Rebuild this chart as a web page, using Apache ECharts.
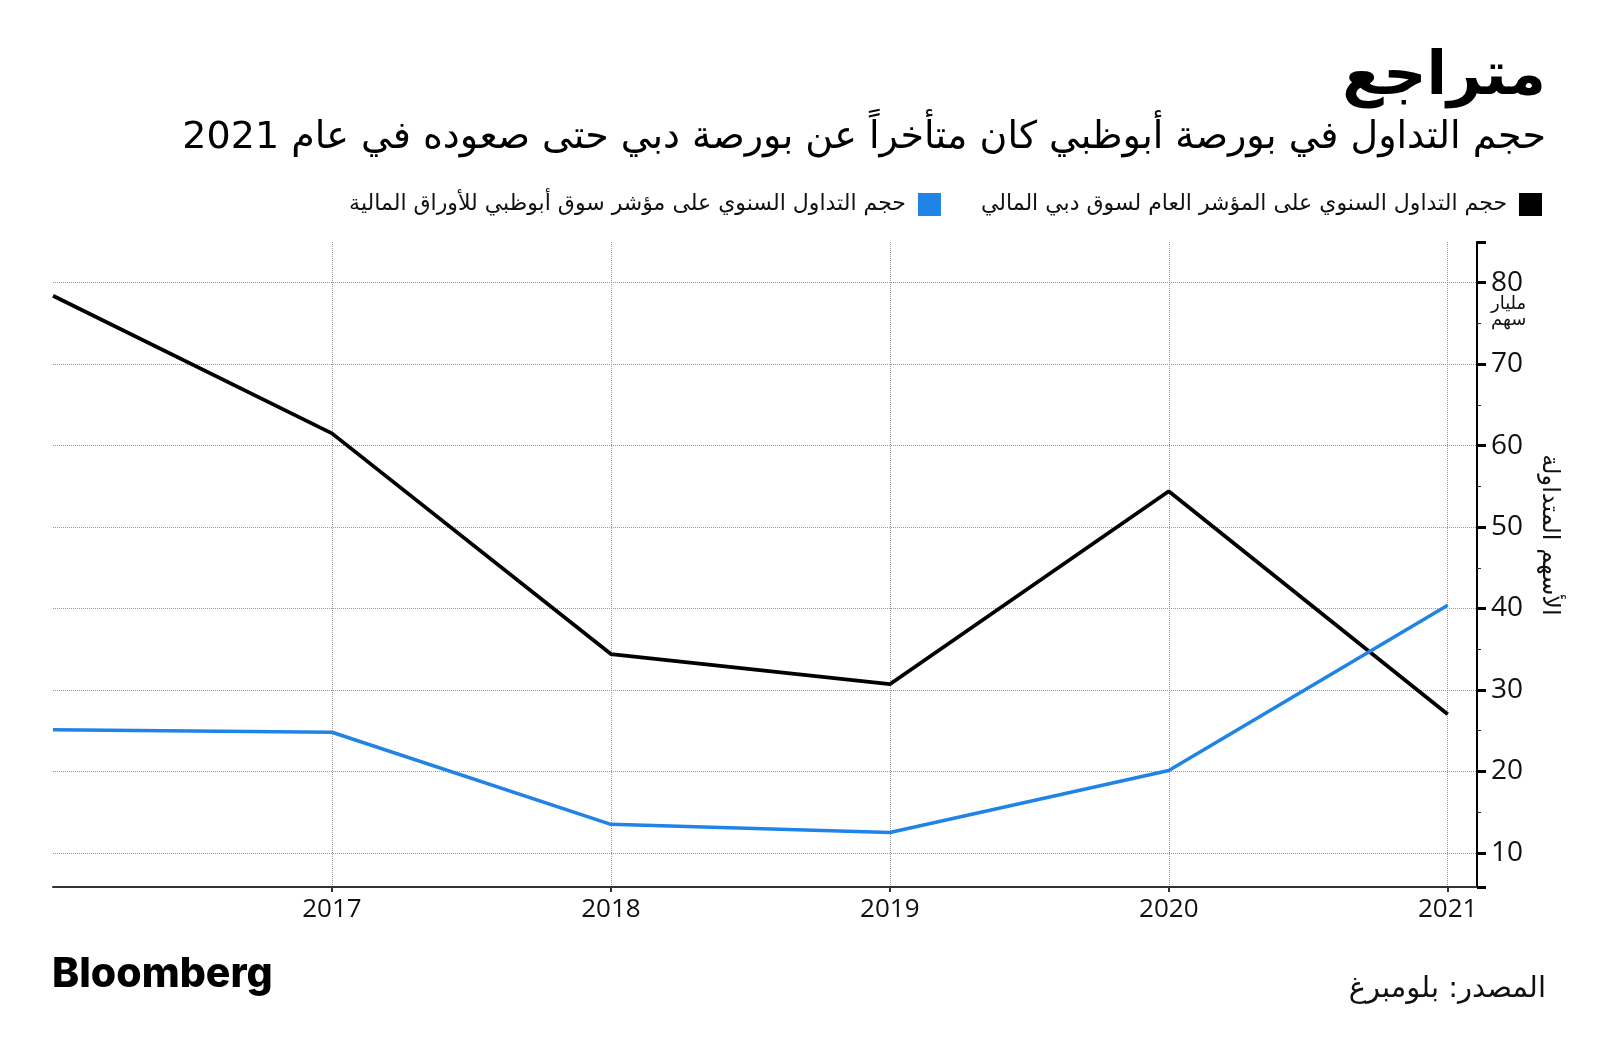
<!DOCTYPE html>
<html><head><meta charset="utf-8">
<script src="https://cdn.jsdelivr.net/npm/echarts@6/dist/echarts.min.js"></script>
<style>html,body{margin:0;padding:0;background:#fff}#c{width:1600px;height:1053px}</style>
</head><body><div id="c"></div>
<script>
// ---- data ----
const years = [2016, 2017, 2018, 2019, 2020, 2021];
const dubaiVolume = [78.4, 61.5, 34.4, 30.7, 54.4, 27.0];
const abuDhabiVolume = [25.1, 24.8, 13.5, 12.5, 20.1, 40.4];
const xTickLabels = [2017, 2018, 2019, 2020, 2021];
const yTickLabels = [10, 20, 30, 40, 50, 60, 70, 80];
const dubaiName = 'حجم التداول السنوي على المؤشر العام لسوق دبي المالي';
const abuDhabiName = 'حجم التداول السنوي على مؤشر سوق أبوظبي للأوراق المالية';
const titleText = 'متراجع';
const subtitleText = 'حجم التداول في بورصة أبوظبي كان متأخراً عن بورصة دبي حتى صعوده في عام 2021';
const yAxisName = 'الأسهم المتداولة';
const unitText = 'مليار\nسهم';
const sourceText = 'المصدر: بلومبرغ';

const AR = '"DejaVu Sans", "Noto Sans", sans-serif';
const NUM = '"Open Sans", "DejaVu Sans", sans-serif';

const chart = echarts.init(document.getElementById('c'), null, {renderer: 'canvas'});
chart.setOption({
  backgroundColor: '#fff',
  animation: false,
  grid: {left: 53, right: 123, top: 242, bottom: 166, containLabel: false},
  legend: {
    right: 53, top: 188, orient: 'horizontal', align: 'right',
    icon: 'rect', itemWidth: 23, itemHeight: 23, itemGap: 40,
    data: [abuDhabiName, dubaiName],
    textStyle: {fontFamily: AR, fontSize: 22, color: '#111', padding: [0, 7, 0, 0]},
    selectedMode: false
  },
  xAxis: {
    type: 'value', min: 2016, max: 2021.105, interval: 1,
    axisLine: {show: true, lineStyle: {color: '#333', width: 2}},
    axisTick: {show: true, length: 5, lineStyle: {color: '#333', width: 2}},
    axisLabel: {
      showMinLabel: false, showMaxLabel: false, margin: 10,
      fontFamily: NUM, fontSize: 26, color: '#111',
      formatter: v => xTickLabels.indexOf(Math.round(v * 1000) / 1000) >= 0 ? String(v) : ''
    },
    splitLine: {show: true, showMinLine: false, showMaxLine: false, lineStyle: {color: '#999', type: 'dotted', width: 1}}
  },
  yAxis: {
    type: 'value', position: 'right', min: 5.8, max: 85, splitNumber: 8,
    axisLine: {show: true, lineStyle: {color: '#000', width: 2}},
    axisTick: {show: true, inside: false, length: 9, lineStyle: {color: '#000', width: 3}},
    minorTick: {show: true, splitNumber: 2, length: 4, lineStyle: {color: '#333', width: 1}},
    axisLabel: {
      showMinLabel: false, showMaxLabel: false, margin: 14,
      fontFamily: NUM, fontSize: 28, color: '#111',
      formatter: v => yTickLabels.indexOf(Math.round(v * 1000) / 1000) >= 0 ? String(v) : ''
    },
    splitLine: {show: true, showMinLine: false, showMaxLine: false, lineStyle: {color: '#999', type: 'dotted', width: 1}}
  },
  series: [
    {
      name: dubaiName, type: 'line', symbol: 'none',
      data: years.map((y, i) => [y, dubaiVolume[i]]),
      lineStyle: {color: '#000', width: 3.8}, itemStyle: {color: '#000'}, z: 3
    },
    {
      name: abuDhabiName, type: 'line', symbol: 'none',
      data: years.map((y, i) => [y, abuDhabiVolume[i]]),
      lineStyle: {color: '#1f84e6', width: 3.5}, itemStyle: {color: '#1f84e6'}, z: 4
    }
  ],
  graphic: [
    {type: 'text', right: 54, top: 48, style: {text: titleText, font: 'bold 60px ' + AR, fill: '#000'}},
    {type: 'text', right: 54, top: 119, style: {text: subtitleText, font: '38px ' + AR, fill: '#000'}},
    {type: 'text', left: 1491, top: 295, style: {text: unitText, font: '18px ' + AR, fill: '#111', lineHeight: 16, align: 'left'}},
    {type: 'text', x: 1549, y: 535, rotation: -Math.PI / 2,
     style: {text: yAxisName, font: '24px ' + AR, fill: '#111', align: 'center', verticalAlign: 'middle'}},
    {type: 'text', left: 52, top: 954, style: {text: 'Bloomberg', font: '800 41px Inter, "Liberation Sans", sans-serif', fill: '#000'}},
    {type: 'text', right: 54, top: 975, style: {text: sourceText, font: '29px ' + AR, fill: '#111'}}
  ]
});
</script>
</body></html>
